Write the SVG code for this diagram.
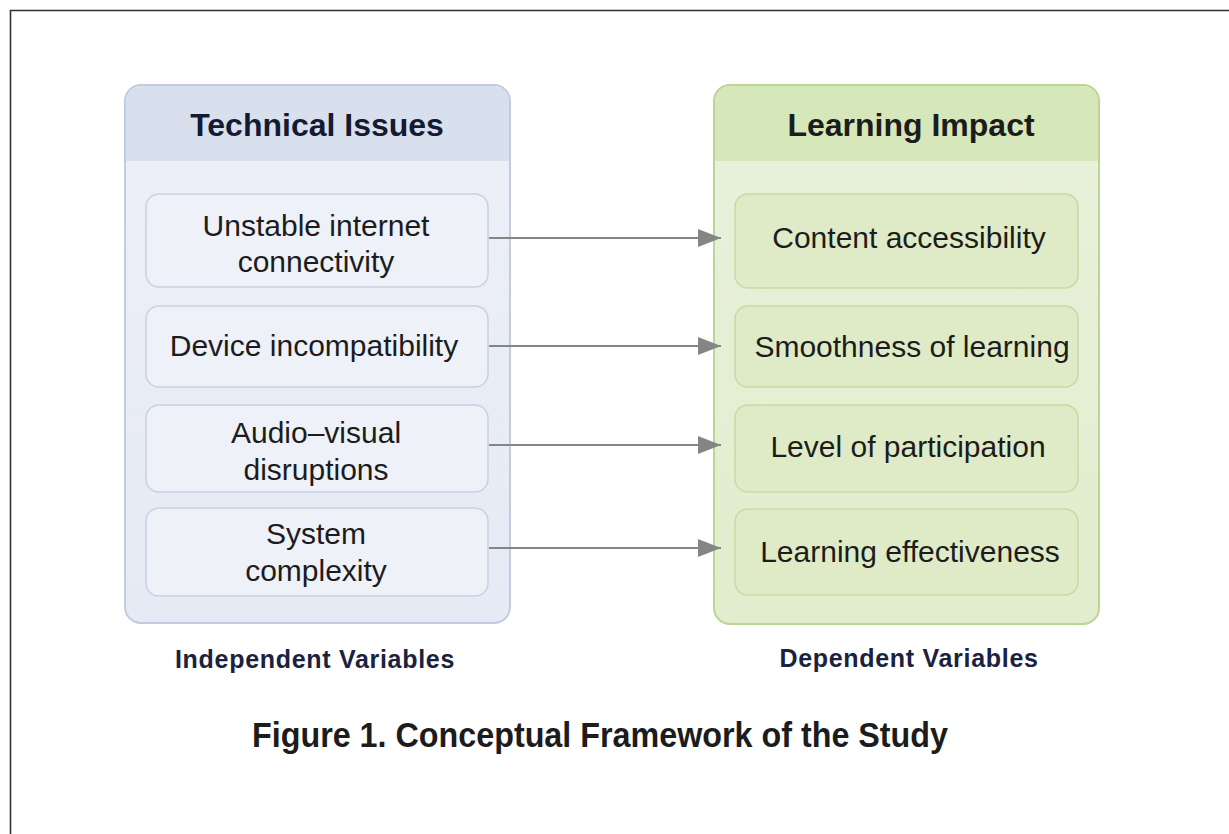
<svg xmlns="http://www.w3.org/2000/svg" width="1229" height="834" viewBox="0 0 1229 834">
  <defs>
    <style>
      .body { font-family: "Liberation Sans", Arial, sans-serif; }
      .head { font-family: "Liberation Sans", Arial, sans-serif; font-weight: bold; font-size: 32px; text-anchor: middle; }
      .item { font-family: "Liberation Sans", Arial, sans-serif; font-size: 30px; fill: #1c1c1c; text-anchor: middle; }
      .var { font-family: "Liberation Sans", Arial, sans-serif; font-weight: bold; font-size: 25px; letter-spacing: 0.7px; fill: #1b2240; text-anchor: middle; }
      .boxL { fill: #eef1f8; stroke: #c8d1e4; stroke-width: 1.5; }
      .boxR { fill: #deebc6; stroke: #c6dba3; stroke-width: 1.5; }
      .link { stroke: #858585; stroke-width: 2.2; fill: none; }
    </style>
    <linearGradient id="bodyL" x1="0" y1="0" x2="0" y2="1">
      <stop offset="0" stop-color="#edf0f7"/>
      <stop offset="1" stop-color="#e6eaf4"/>
    </linearGradient>
    <linearGradient id="bodyR" x1="0" y1="0" x2="0" y2="1">
      <stop offset="0" stop-color="#e9f1dc"/>
      <stop offset="1" stop-color="#e1edcd"/>
    </linearGradient>
    <marker id="arrow" markerUnits="userSpaceOnUse" markerWidth="24" markerHeight="18" refX="23" refY="9" orient="auto">
      <path d="M0,0 L23,9 L0,18 Z" fill="#858585"/>
    </marker>
  </defs>

  <rect width="1229" height="834" fill="#ffffff"/>
  <!-- frame -->
  <path d="M10.5,834 V10.5 H1229" fill="none" stroke="#333333" stroke-width="1.6"/>

  <!-- left panel -->
  <g id="panel-technical-issues">
    <rect x="125" y="85" width="385" height="538" rx="16" fill="url(#bodyL)" stroke="#c2cce0" stroke-width="2"/>
    <path d="M126,161 V101 a15,15 0 0 1 15,-15 H494 a15,15 0 0 1 15,15 V161 Z" fill="#d8e0ee"/>
    <text class="head" x="317" y="136" fill="#151a33">Technical Issues</text>
  </g>

  <!-- right panel -->
  <g id="panel-learning-impact">
    <rect x="714" y="85" width="385" height="539" rx="16" fill="url(#bodyR)" stroke="#bad596" stroke-width="2"/>
    <path d="M715,161 V101 a15,15 0 0 1 15,-15 H1083 a15,15 0 0 1 15,15 V161 Z" fill="#d6e7b9"/>
    <text class="head" x="911" y="136" fill="#1c1c1c">Learning Impact</text>
  </g>

  <!-- independent variables -->
  <g id="node-unstable-internet">
    <rect class="boxL" x="146" y="194" width="342" height="93" rx="13"/>
    <text class="item" x="316" y="236">Unstable internet</text>
    <text class="item" x="316" y="272">connectivity</text>
  </g>
  <g id="node-device-incompatibility">
    <rect class="boxL" x="146" y="306" width="342" height="81" rx="13"/>
    <text class="item" x="314" y="356">Device incompatibility</text>
  </g>
  <g id="node-audio-visual">
    <rect class="boxL" x="146" y="405" width="342" height="87" rx="13"/>
    <text class="item" x="316" y="443">Audio–visual</text>
    <text class="item" x="316" y="480">disruptions</text>
  </g>
  <g id="node-system-complexity">
    <rect class="boxL" x="146" y="508" width="342" height="88" rx="13"/>
    <text class="item" x="316" y="544">System</text>
    <text class="item" x="316" y="581">complexity</text>
  </g>

  <!-- dependent variables -->
  <g id="node-content-accessibility">
    <rect class="boxR" x="735" y="194" width="343" height="94" rx="13"/>
    <text class="item" x="909" y="248">Content accessibility</text>
  </g>
  <g id="node-smoothness">
    <rect class="boxR" x="735" y="306" width="343" height="81" rx="13"/>
    <text class="item" x="912" y="357">Smoothness of learning</text>
  </g>
  <g id="node-participation">
    <rect class="boxR" x="735" y="405" width="343" height="87" rx="13"/>
    <text class="item" x="908" y="457">Level of participation</text>
  </g>
  <g id="node-effectiveness">
    <rect class="boxR" x="735" y="509" width="343" height="86" rx="13"/>
    <text class="item" x="910" y="562">Learning effectiveness</text>
  </g>

  <!-- connectors -->
  <g id="connectors">
    <line class="link" x1="489" y1="238" x2="721" y2="238" marker-end="url(#arrow)"/>
    <line class="link" x1="489" y1="346" x2="721" y2="346" marker-end="url(#arrow)"/>
    <line class="link" x1="489" y1="445" x2="721" y2="445" marker-end="url(#arrow)"/>
    <line class="link" x1="489" y1="548" x2="721" y2="548" marker-end="url(#arrow)"/>
  </g>

  <!-- column labels -->
  <text class="var" x="315" y="668">Independent Variables</text>
  <text class="var" x="909" y="667">Dependent Variables</text>

  <!-- caption -->
  <text class="body" x="252" y="747" font-size="35" font-weight="bold" fill="#1c1c1c" textLength="696" lengthAdjust="spacingAndGlyphs">Figure 1. Conceptual Framework of the Study</text>
</svg>
